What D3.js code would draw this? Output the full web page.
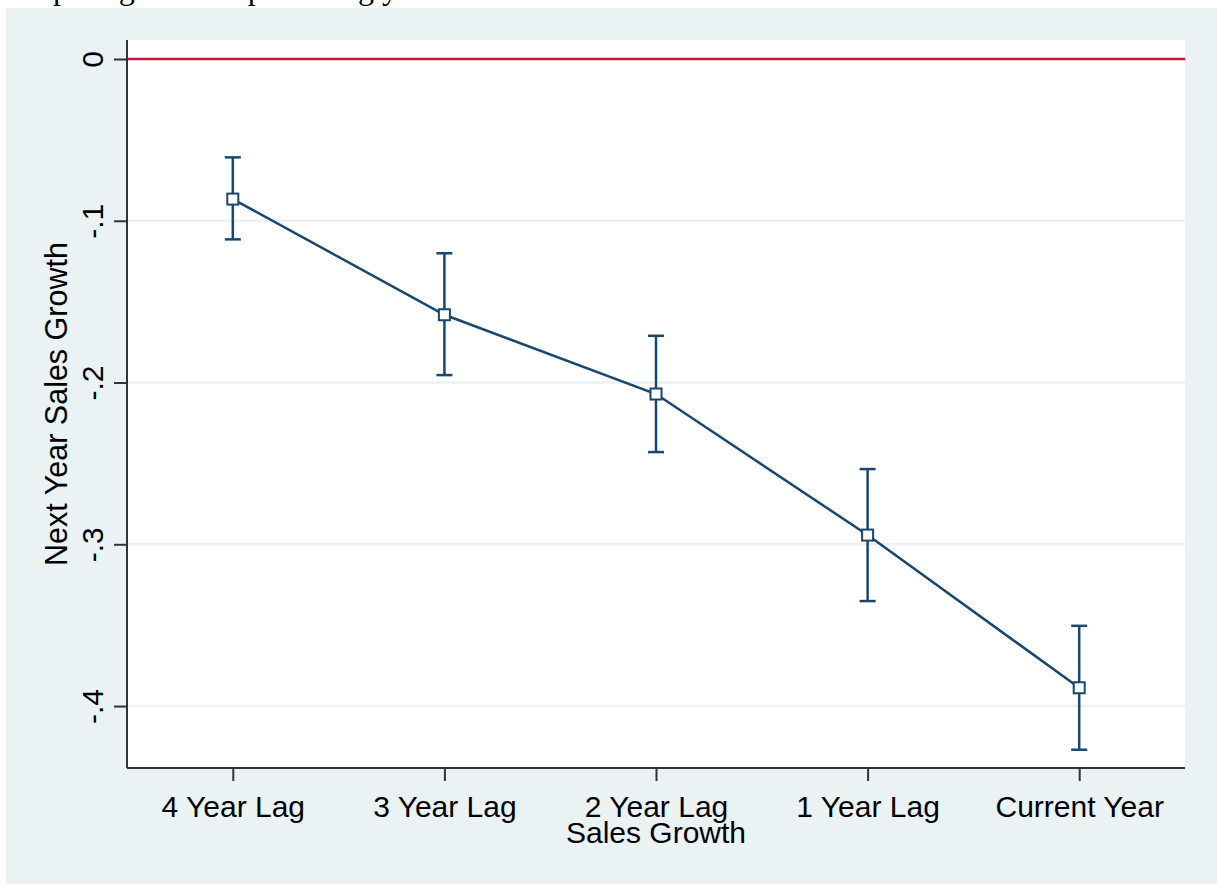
<!DOCTYPE html>
<html>
<head>
<meta charset="utf-8">
<script src="https://cdn.jsdelivr.net/npm/d3@7"></script>
<style>
    html, body { margin: 0; padding: 0; background: white; }
    svg { display: block; }
</style>
</head>
<body>
<div id="chart"></div>
<script>
const categories = ["4 Year Lag", "3 Year Lag", "2 Year Lag", "1 Year Lag", "Current Year"];
const estimates = [-0.0866, -0.1581, -0.2071, -0.2943, -0.3887];
const ciLower = [-0.1115, -0.1954, -0.2430, -0.3351, -0.4270];
const ciUpper = [-0.0608, -0.1201, -0.1711, -0.2535, -0.3504];
const yTicks = [0, -0.1, -0.2, -0.3, -0.4];
const yTickLabels = ["0", "-.1", "-.2", "-.3", "-.4"];

const width = 1217;
const height = 884;
const plot = { left: 127, right: 1185, top: 40, bottom: 768 };
const navy = "#1a476f";

const svg = d3.select("#chart")
    .append("svg")
    .attr("width", width)
    .attr("height", height);

// cut-off caption line from the page above
svg.append("text")
    .attr("x", -2)
    .attr("y", -1)
    .style("font-family", "'Liberation Serif', 'DejaVu Serif', serif")
    .style("font-size", "32px")
    .text("comparing them to preceding years");

// outer graph background
svg.append("rect")
    .attr("x", 6)
    .attr("y", 8)
    .attr("width", width - 6)
    .attr("height", height - 8)
    .attr("fill", "#eaf2f3");

// plot region
svg.append("rect")
    .attr("x", plot.left)
    .attr("y", plot.top)
    .attr("width", plot.right - plot.left)
    .attr("height", plot.bottom - plot.top)
    .attr("fill", "white");

const x = d3.scalePoint()
    .domain(categories)
    .range([plot.left, plot.right])
    .padding(0.5);

const y = d3.scaleLinear()
    .domain([-0.4383, 0.01175])
    .range([plot.bottom, plot.top]);

// gridlines
svg.append("g")
    .selectAll("line")
    .data(yTicks.filter(d => d !== 0))
    .join("line")
    .attr("x1", plot.left)
    .attr("x2", plot.right)
    .attr("y1", d => y(d))
    .attr("y2", d => y(d))
    .attr("stroke", "#eaf2f3")
    .attr("stroke-width", 2.5);

// zero reference line
svg.append("line")
    .attr("x1", plot.left)
    .attr("x2", plot.right)
    .attr("y1", y(0))
    .attr("y2", y(0))
    .attr("stroke", "#c8143c")
    .attr("stroke-width", 2.5);

// y axis
const yAxis = svg.append("g")
    .attr("transform", `translate(${plot.left},0)`)
    .call(d3.axisLeft(y).tickValues(yTicks).tickSize(13).tickPadding(0).tickFormat((d, i) => yTickLabels[i]));

yAxis.select(".domain")
    .attr("d", `M0,${plot.top}V${plot.bottom}`)
    .attr("stroke", "#333")
    .attr("stroke-width", 2);
yAxis.selectAll(".tick line").attr("stroke", "#333").attr("stroke-width", 2);
yAxis.selectAll(".tick text")
    .attr("x", null)
    .attr("dy", null)
    .attr("text-anchor", "middle")
    .attr("transform", "translate(-24,0) rotate(-90)")
    .style("font-family", "'Liberation Sans', Arial, sans-serif")
    .style("font-size", "30px")
    .attr("fill", "black");

// x axis
const xAxis = svg.append("g")
    .attr("transform", `translate(0,${plot.bottom})`)
    .call(d3.axisBottom(x).tickSize(13).tickPadding(0));

xAxis.select(".domain")
    .attr("d", `M${plot.left},0H${plot.right}`)
    .attr("stroke", "#333")
    .attr("stroke-width", 2);
xAxis.selectAll(".tick line").attr("stroke", "#333").attr("stroke-width", 2);
xAxis.selectAll(".tick text")
    .attr("y", 49)
    .attr("dy", null)
    .style("font-family", "'Liberation Sans', Arial, sans-serif")
    .style("font-size", "30px")
    .attr("fill", "black");

// axis titles
svg.append("text")
    .attr("x", (plot.left + plot.right) / 2)
    .attr("y", 843)
    .attr("text-anchor", "middle")
    .style("font-family", "'Liberation Sans', Arial, sans-serif")
    .style("font-size", "30px")
    .text("Sales Growth");

svg.append("text")
    .attr("transform", `translate(67,${(plot.top + plot.bottom) / 2}) rotate(-90)`)
    .attr("text-anchor", "middle")
    .style("font-family", "'Liberation Sans', Arial, sans-serif")
    .style("font-size", "30.5px")
    .text("Next Year Sales Growth");

const points = categories.map((c, i) => ({
    cat: c, est: estimates[i], lo: ciLower[i], hi: ciUpper[i]
}));

// connecting line
svg.append("path")
    .datum(points)
    .attr("fill", "none")
    .attr("stroke", navy)
    .attr("stroke-width", 2.5)
    .attr("d", d3.line().x(d => x(d.cat)).y(d => y(d.est)));

// error bars
const bars = svg.append("g")
    .selectAll("g")
    .data(points)
    .join("g")
    .attr("stroke", navy)
    .attr("stroke-width", 2.5);

bars.append("line")
    .attr("x1", d => x(d.cat))
    .attr("x2", d => x(d.cat))
    .attr("y1", d => y(d.lo))
    .attr("y2", d => y(d.hi));

bars.append("line")
    .attr("x1", d => x(d.cat) - 8)
    .attr("x2", d => x(d.cat) + 8)
    .attr("y1", d => y(d.hi))
    .attr("y2", d => y(d.hi));

bars.append("line")
    .attr("x1", d => x(d.cat) - 8)
    .attr("x2", d => x(d.cat) + 8)
    .attr("y1", d => y(d.lo))
    .attr("y2", d => y(d.lo));

// hollow square markers
svg.append("g")
    .selectAll("rect")
    .data(points)
    .join("rect")
    .attr("x", d => x(d.cat) - 5.5)
    .attr("y", d => y(d.est) - 5.5)
    .attr("width", 11)
    .attr("height", 11)
    .attr("fill", "white")
    .attr("stroke", navy)
    .attr("stroke-width", 2);
</script>
</body>
</html>
